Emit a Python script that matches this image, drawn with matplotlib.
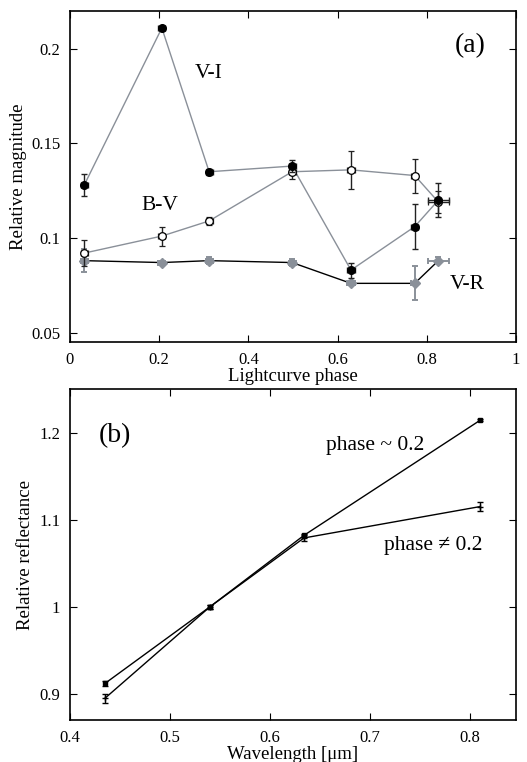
import matplotlib
matplotlib.use("Agg")
import matplotlib.pyplot as plt
import numpy as np

plt.rcParams['font.family'] = ['Liberation Serif', 'DejaVu Serif']
plt.rcParams['mathtext.fontset'] = 'stix'

# Panel (a) data
phase = [0.032, 0.206, 0.312, 0.498, 0.630, 0.773, 0.826]
phase_err = [0.008, 0.008, 0.008, 0.008, 0.008, 0.008, 0.024]
vi = [0.128, 0.211, 0.135, 0.138, 0.083, 0.106, 0.120]
vi_err = [0.006, 0.001, 0.0015, 0.003, 0.004, 0.012, 0.009]
bv = [0.092, 0.101, 0.109, 0.135, 0.136, 0.133, 0.119]
bv_err = [0.007, 0.005, 0.002, 0.004, 0.010, 0.009, 0.006]
vr = [0.088, 0.087, 0.088, 0.087, 0.076, 0.076, 0.088]
vr_err = [0.006, 0.001, 0.002, 0.002, 0.001, 0.009, 0.002]

# Panel (b) data
wavelength = [0.435, 0.540, 0.634, 0.810]
refl_02 = [0.912, 1.000, 1.082, 1.214]
refl_02_err = [0.003, 0.002, 0.002, 0.001]
refl_n02 = [0.895, 1.000, 1.079, 1.115]
refl_n02_err = [0.005, 0.002, 0.003, 0.005]

fig = plt.figure(figsize=(5.27, 7.62), dpi=100)
axa = fig.add_axes([0.1328, 0.5512, 0.8463, 0.4344])
axb = fig.add_axes([0.1328, 0.0551, 0.8463, 0.4344])

grey = '#8a9099'
# V-I
axa.plot(phase, vi, color=grey, lw=1.0, zorder=1)
axa.errorbar(phase, vi, yerr=vi_err, xerr=phase_err, fmt='o', ms=5.5,
             mfc='black', mec='black', ecolor='#222222', elinewidth=1.0,
             capsize=2.5, capthick=1.0, zorder=4)
# B-V
axa.plot(phase, bv, color=grey, lw=1.0, zorder=1)
axa.errorbar(phase, bv, yerr=bv_err, xerr=phase_err, fmt='o', ms=5.5,
             mfc='white', mec='black', mew=0.9, ecolor='#222222', elinewidth=1.0,
             capsize=2.5, capthick=1.0, zorder=3)
# V-R
axa.plot(phase, vr, color='black', lw=1.0, zorder=1)
axa.errorbar(phase, vr, yerr=vr_err, xerr=phase_err, fmt='D', ms=5.5,
             mfc=grey, mec=grey, ecolor=grey, elinewidth=1.4,
             capsize=2.5, capthick=1.4, zorder=2)

axa.set_xlim(0, 1)
axa.set_ylim(0.045, 0.22)
axa.set_xticks([0, 0.2, 0.4, 0.6, 0.8, 1])
axa.set_xticklabels(['0', '0.2', '0.4', '0.6', '0.8', '1'])
axa.set_yticks([0.05, 0.1, 0.15, 0.2])
axa.set_yticklabels(['0.05', '0.1', '0.15', '0.2'])
axa.set_xlabel('Lightcurve phase', fontsize=13.5, labelpad=0)
axa.set_ylabel('Relative magnitude', fontsize=13.5, labelpad=3)
axa.text(0.31, 0.187, 'V-I', fontsize=15.5, ha='center', va='center')
axa.text(0.202, 0.1173, 'B-V', fontsize=15.5, ha='center', va='center')
axa.text(0.89, 0.0755, 'V-R', fontsize=15.5, ha='center', va='center')
axa.text(0.898, 0.2015, '(a)', fontsize=20, ha='center', va='center')

# Panel (b)
axb.errorbar(wavelength, refl_02, yerr=refl_02_err, fmt='s-', ms=3.5,
             color='black', lw=1.0, elinewidth=1.0, capsize=2.5, capthick=1.0)
axb.errorbar(wavelength, refl_n02, yerr=refl_n02_err, fmt='+-', ms=4,
             color='black', lw=1.0, elinewidth=1.0, capsize=2.5, capthick=1.0)
axb.set_xlim(0.4, 0.846)
axb.set_ylim(0.87, 1.25)
axb.set_xticks([0.4, 0.5, 0.6, 0.7, 0.8])
axb.set_yticks([0.9, 1.0, 1.1, 1.2])
axb.set_yticklabels(['0.9', '1', '1.1', '1.2'])
axb.set_xlabel('Wavelength [μm]', fontsize=13.5, labelpad=0)
axb.set_ylabel('Relative reflectance', fontsize=13.5, labelpad=4)
axb.text(0.705, 1.185, 'phase ~ 0.2', fontsize=15.5, ha='center', va='center')
axb.text(0.763, 1.0707, 'phase ≠ 0.2', fontsize=15.5, ha='center', va='center')
axb.text(0.445, 1.197, '(b)', fontsize=20, ha='center', va='center')

for ax in (axa, axb):
    ax.tick_params(direction='in', top=True, right=True, length=5,
                   labelsize=12, pad=7)
    for s in ax.spines.values():
        s.set_linewidth(1.2)

fig.savefig('out.png', dpi=100)
